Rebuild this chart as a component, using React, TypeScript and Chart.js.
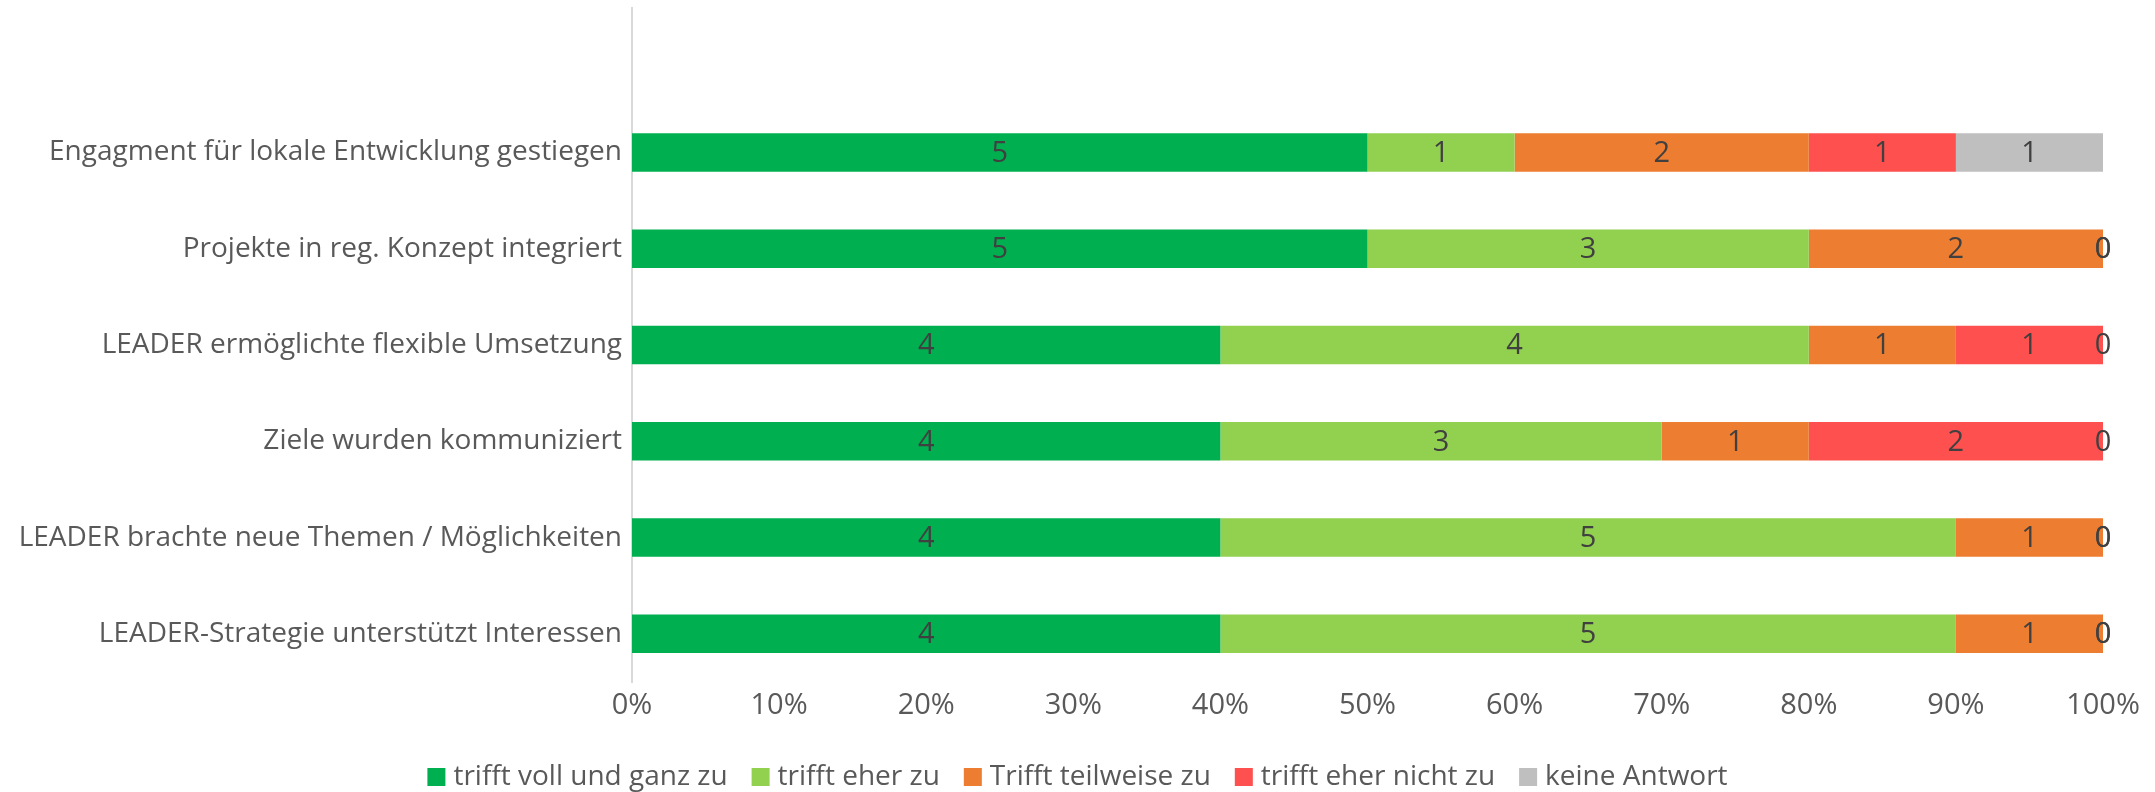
import React, { useEffect, useRef } from "react";
import { Chart, registerables } from "chart.js";

Chart.register(...registerables);

const categories = [
  "",
  "Engagment für lokale Entwicklung gestiegen",
  "Projekte in reg. Konzept integriert",
  "LEADER ermöglichte flexible Umsetzung",
  "Ziele wurden kommuniziert",
  "LEADER brachte neue Themen / Möglichkeiten",
  "LEADER-Strategie unterstützt Interessen",
];

const seriesNames = [
  "trifft voll und ganz zu",
  "trifft eher zu",
  "Trifft teilweise zu",
  "trifft eher nicht zu",
  "keine Antwort",
];

const vollUndGanz = [null, 5, 5, 4, 4, 4, 4];
const eherZu = [null, 1, 3, 4, 3, 5, 5];
const teilweise = [null, 2, 2, 1, 1, 1, 1];
const eherNicht = [null, 1, 0, 1, 2, 0, 0];
const keineAntwort = [null, 1, 0, 0, 0, 0, 0];

const xTicks = [0, 10, 20, 30, 40, 50, 60, 70, 80, 90, 100];

const colors = ["#00B050", "#92D050", "#ED7D31", "#FF5050", "#BFBFBF"];

const FONT = "'Open Sans', sans-serif";

export default function App() {
  const ref = useRef<HTMLCanvasElement | null>(null);

  useEffect(() => {
    const series = [vollUndGanz, eherZu, teilweise, eherNicht, keineAntwort];
    const totals = categories.map((_, i) =>
      series.reduce((s, arr) => s + (arr[i] ?? 0), 0)
    );
    const datasets = series.map((arr, k) => ({
      label: seriesNames[k],
      data: arr.map((v, i) => (v === null ? null : (v / totals[i]) * 100)),
      raw: arr,
      backgroundColor: colors[k],
      borderWidth: 0,
      categoryPercentage: 1,
      barPercentage: 0.4,
    }));

    const labelPlugin = {
      id: "segLabels",
      afterDatasetsDraw(chart: any) {
        const ctx = chart.ctx;
        ctx.save();
        ctx.font = `29px ${FONT}`;
        ctx.fillStyle = "#404040";
        ctx.textAlign = "center";
        ctx.textBaseline = "middle";
        chart.data.datasets.forEach((ds: any, di: number) => {
          const meta = chart.getDatasetMeta(di);
          meta.data.forEach((el: any, i: number) => {
            const v = ds.raw[i];
            if (v === null || v === undefined) return;
            const cx = (el.x + el.base) / 2;
            ctx.fillText(String(v), cx, el.y + 1);
          });
        });
        ctx.restore();
      },
    };

    const legendPlugin = {
      id: "customLegend",
      afterDraw(chart: any) {
        const ctx = chart.ctx;
        const box = 18;
        const gapText = 8;
        const gapItem = 24;
        ctx.save();
        ctx.font = `28px ${FONT}`;
        ctx.textBaseline = "middle";
        ctx.textAlign = "left";
        const items = chart.data.datasets.map((ds: any) => ({
          label: ds.label,
          color: ds.backgroundColor,
          w: ctx.measureText(ds.label).width,
        }));
        const total =
          items.reduce((s: number, it: any) => s + box + gapText + it.w, 0) +
          gapItem * (items.length - 1);
        let x = chart.width / 2 - total / 2;
        const y = 777;
        items.forEach((it: any) => {
          ctx.fillStyle = it.color;
          ctx.fillRect(x, y - box / 2, box, box);
          x += box + gapText;
          ctx.fillStyle = "#595959";
          ctx.fillText(it.label, x, y);
          x += it.w + gapItem;
        });
        ctx.restore();
      },
    };

    const chart = new Chart(ref.current as HTMLCanvasElement, {
      type: "bar",
      data: { labels: categories, datasets: datasets as any },
      options: {
        animation: false,
        responsive: true,
        maintainAspectRatio: false,
        indexAxis: "y",
        layout: { padding: { top: 8, right: 52, left: 0, bottom: 60 } },
        scales: {
          x: {
            stacked: true,
            min: 0,
            max: 100,
            afterBuildTicks: (scale: any) => {
              scale.ticks = xTicks.map((v) => ({ value: v }));
            },
            afterFit: (scale: any) => {
              scale.height = 50;
            },
            grid: { display: false, drawTicks: false },
            border: { display: false },
            ticks: {
              padding: 6,
              color: "#595959",
              font: { size: 29, family: FONT },
              callback: (v: any) => `${v}%`,
            },
          },
          y: {
            stacked: true,
            afterFit: (scale: any) => {
              scale.width = 632;
              scale.paddingTop = 0;
              scale.paddingBottom = 0;
            },
            grid: { display: false, drawTicks: false },
            border: { display: true, color: "#D9D9D9", width: 2 },
            ticks: {
              padding: 10,
              color: "#595959",
              font: { size: 28, family: FONT },
            },
          },
        },
        plugins: {
          legend: { display: false },
          tooltip: { enabled: false },
        },
      },
      plugins: [labelPlugin, legendPlugin],
    });
    return () => chart.destroy();
  }, []);

  return (
    <div
      style={{
        position: "fixed",
        left: 0,
        top: 0,
        width: 2155,
        height: 792,
        background: "#fff",
      }}
    >
      <canvas ref={ref} />
    </div>
  );
}
